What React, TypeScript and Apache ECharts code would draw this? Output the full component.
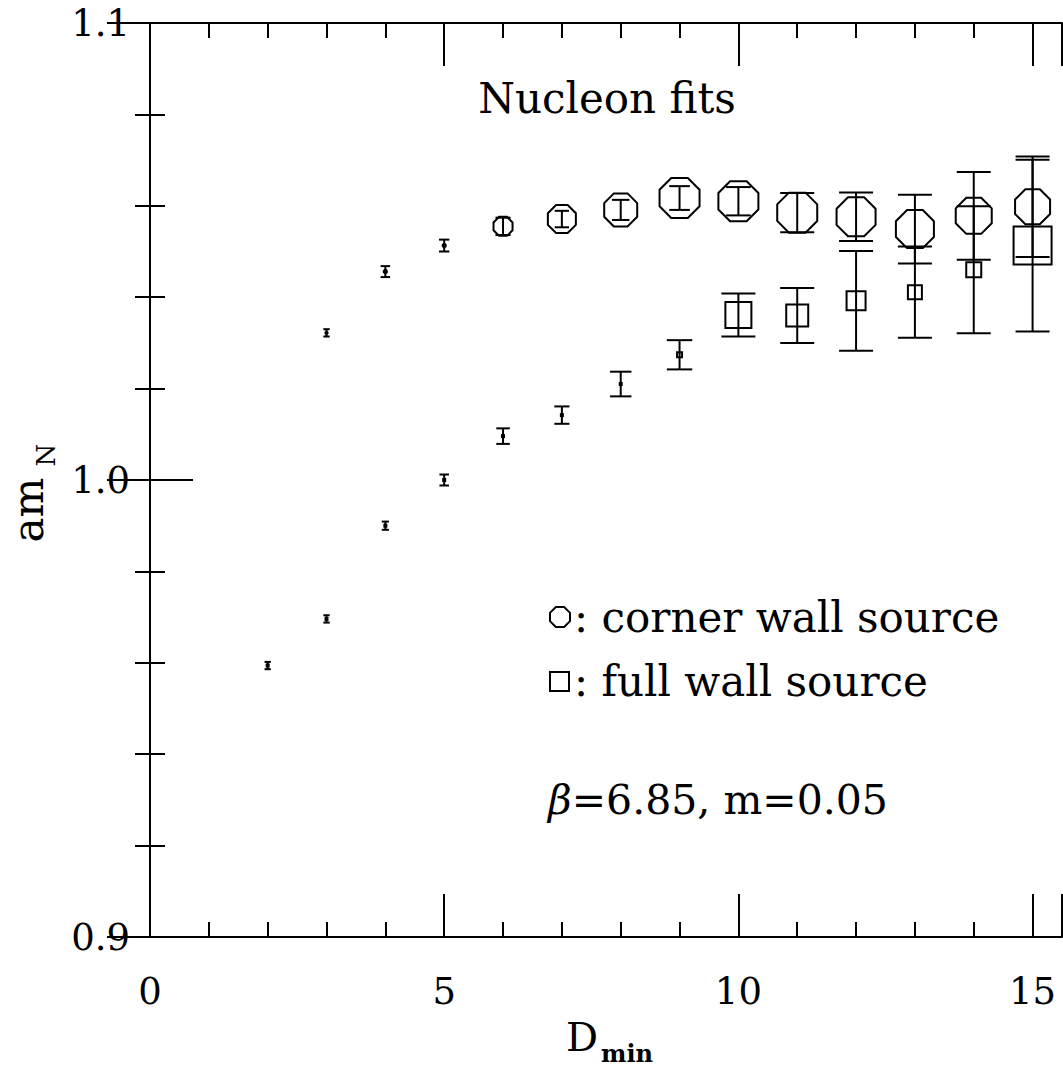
import React, { useEffect, useRef } from "react";
import * as echarts from "echarts";

// ---- data ----
const dMin = [2, 3, 4, 5, 6, 7, 8, 9, 10, 11, 12, 13, 14, 15];

// corner wall source (octagons), starts at D_min = 3
const cornerX = [3, 4, 5, 6, 7, 8, 9, 10, 11, 12, 13, 14, 15];
const cornerY = [1.0322, 1.0456, 1.0513, 1.0555, 1.0571, 1.0591, 1.0617, 1.061, 1.0585, 1.0576, 1.0549, 1.0578, 1.0598];
const cornerErr = [0.0008, 0.0012, 0.0013, 0.0019, 0.0018, 0.0022, 0.0026, 0.0031, 0.0043, 0.0053, 0.0075, 0.0096, 0.011];

// full wall source (squares)
const fullX = dMin;
const fullY = [0.9594, 0.9696, 0.99, 1.0, 1.0096, 1.0142, 1.021, 1.0274, 1.0361, 1.036, 1.0392, 1.0411, 1.046, 1.0513];
const fullErr = [0.0008, 0.0008, 0.0009, 0.0012, 0.0017, 0.0019, 0.0027, 0.0032, 0.0047, 0.006, 0.0109, 0.01, 0.0139, 0.0188];

// marker sizes in px (style)
const cornerSymbolPx = [2, 3, 3, 19, 28, 33, 40, 40, 40, 39, 38, 36, 35];
const fullSymbolPx = [2, 2, 2, 2, 2, 2, 2, 5, 26, 22, 19, 14, 15, 38];

const xTicks = [0, 5, 10, 15];
const yTicks = [0.9, 1.0, 1.1];

const FONT = '"DejaVu Serif", "Liberation Serif", serif';

function octagonPoints(cx: number, cy: number, w: number) {
  const r = w / 2 / Math.cos(Math.PI / 8);
  const pts: number[][] = [];
  for (let k = 0; k < 8; k++) {
    const a = Math.PI / 8 + (k * Math.PI) / 4;
    pts.push([cx + r * Math.cos(a), cy + r * Math.sin(a)]);
  }
  return pts;
}

function makeRender(kind: "oct" | "sq") {
  return (params: any, api: any) => {
    const x = api.value(0);
    const y = api.value(1);
    const e = api.value(2);
    const s = api.value(3);
    const c = api.coord([x, y]);
    const t = api.coord([x, y + e]);
    const b = api.coord([x, y - e]);
    const errPx = (b[1] - t[1]) / 2;
    const cap = Math.max(2.5, Math.min(errPx * 0.87, 17));
    const ls = { stroke: "#000", lineWidth: 2, fill: null };
    const children: any[] = [
      { type: "line", shape: { x1: c[0], y1: t[1], x2: c[0], y2: b[1] }, style: ls },
      { type: "line", shape: { x1: c[0] - cap, y1: t[1], x2: c[0] + cap, y2: t[1] }, style: ls },
      { type: "line", shape: { x1: c[0] - cap, y1: b[1], x2: c[0] + cap, y2: b[1] }, style: ls },
    ];
    if (kind === "oct") {
      children.push({ type: "polygon", shape: { points: octagonPoints(c[0], c[1], s) }, style: { stroke: "#000", lineWidth: 2, fill: "none" } });
    } else {
      children.push({ type: "rect", shape: { x: c[0] - s / 2, y: c[1] - s / 2, width: s, height: s }, style: { stroke: "#000", lineWidth: 2, fill: "none" } });
    }
    return { type: "group", children };
  };
}

export default function App() {
  const ref = useRef<HTMLDivElement>(null);
  useEffect(() => {
    document.body.style.margin = "0";
    const chart = echarts.init(ref.current!, null, { renderer: "svg" });
    const cornerData = cornerX.map((x, i) => [x, cornerY[i], cornerErr[i], cornerSymbolPx[i]]);
    const fullData = fullX.map((x, i) => [x, fullY[i], fullErr[i], fullSymbolPx[i]]);

    const axisLine = { show: true, lineStyle: { color: "#000", width: 2 } };
    const xBase = {
      type: "value",
      min: 0,
      max: 15.5,
      interval: 5,
      splitLine: { show: false },
      axisLine,
      axisTick: { show: true, inside: true, length: 43, lineStyle: { color: "#000", width: 2 } },
      minorTick: { show: true, splitNumber: 5, length: 15, lineStyle: { color: "#000", width: 2 } },
      minorSplitLine: { show: false },
    };
    const yBase = {
      type: "value",
      min: 0.9,
      max: 1.1,
      interval: 0.1,
      splitLine: { show: false },
      axisLine,
      axisTick: { show: true, inside: true, length: 43, lineStyle: { color: "#000", width: 2 } },
      minorTick: { show: true, splitNumber: 5, length: 15, lineStyle: { color: "#000", width: 2 } },
      minorSplitLine: { show: false },
    };

    chart.setOption({
      animation: false,
      backgroundColor: "#fff",
      grid: { left: 150, top: 23, right: 1, bottom: 131, containLabel: false },
      xAxis: [
        {
          ...xBase,
          position: "bottom",
          axisLabel: {
            show: true,
            margin: 36,
            fontSize: 37,
            fontFamily: FONT,
            color: "#000",
            showMaxLabel: false,
            formatter: (v: number) => (xTicks.includes(v) ? String(v) : ""),
          },
        },
        { ...xBase, position: "top", axisLabel: { show: false } },
      ],
      yAxis: [
        {
          ...yBase,
          position: "left",
          axisLabel: {
            show: true,
            margin: 20,
            fontSize: 37,
            fontFamily: FONT,
            color: "#000",
            formatter: (v: number) => {
              const m = yTicks.find((t) => Math.abs(t - v) < 1e-9);
              return m !== undefined ? m.toFixed(1) : "";
            },
          },
        },
        { ...yBase, position: "right", axisLabel: { show: false } },
      ],
      series: [
        { type: "custom", name: "corner wall source", renderItem: makeRender("oct"), data: cornerData, clip: true, encode: { x: 0, y: 1 } },
        { type: "custom", name: "full wall source", renderItem: makeRender("sq"), data: fullData, clip: true, encode: { x: 0, y: 1 } },
      ],
      graphic: [
        { type: "text", x: 607, y: 98, style: { text: "Nucleon fits", font: `42px ${FONT}`, fill: "#000", align: "center", verticalAlign: "middle" } },
        { type: "polygon", shape: { points: octagonPoints(560, 617, 20) }, style: { stroke: "#000", lineWidth: 2, fill: "none" } },
        { type: "text", x: 574, y: 617, style: { text: ": corner wall source", font: `42px ${FONT}`, fill: "#000", align: "left", verticalAlign: "middle" } },
        { type: "rect", shape: { x: 550, y: 672, width: 19, height: 19 }, style: { stroke: "#000", lineWidth: 2, fill: "none" } },
        { type: "text", x: 574, y: 681, style: { text: ": full wall source", font: `42px ${FONT}`, fill: "#000", align: "left", verticalAlign: "middle" } },
        {
          type: "text",
          x: 548,
          y: 800,
          style: {
            text: "{b|β}=6.85, m=0.05",
            font: `41px ${FONT}`,
            fill: "#000",
            align: "left",
            verticalAlign: "middle",
            rich: { b: { fontStyle: "italic", fontSize: 41, fontFamily: FONT } },
          },
        },
        { type: "text", x: 582, y: 1037, style: { text: "D", font: `40px ${FONT}`, fill: "#000", align: "center", verticalAlign: "middle" } },
        { type: "text", x: 601, y: 1053, style: { text: "min", font: `bold 24px ${FONT}`, fill: "#000", align: "left", verticalAlign: "middle" } },
        { type: "text", x: 28, y: 510, rotation: Math.PI / 2, style: { text: "am", font: `42px ${FONT}`, fill: "#000", align: "center", verticalAlign: "middle" } },
        { type: "text", x: 46, y: 455, rotation: Math.PI / 2, style: { text: "N", font: `26px ${FONT}`, fill: "#000", align: "center", verticalAlign: "middle" } },
      ],
    });
    return () => chart.dispose();
  }, []);
  return <div ref={ref} style={{ position: "absolute", left: 0, top: 0, width: 1063, height: 1068 }} />;
}
